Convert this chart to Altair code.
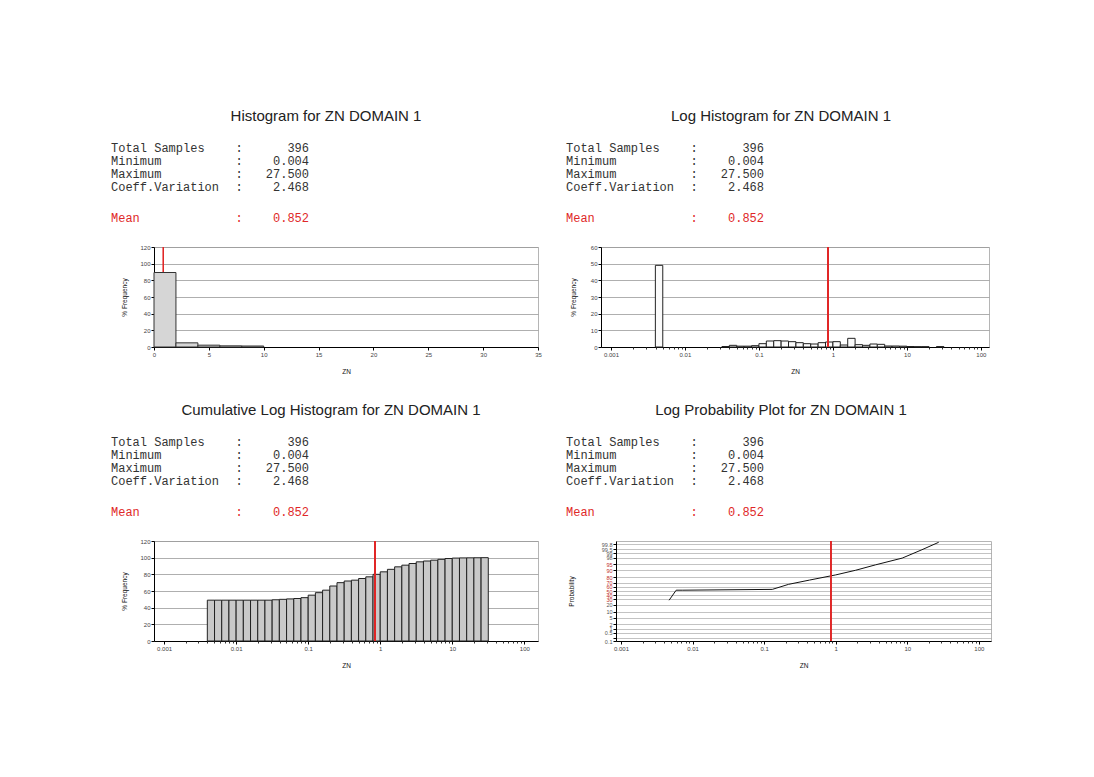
import statistics
import pandas as pd
import altair as alt

# ---------------- data ----------------
stat_labels = ["Total Samples", "Minimum", "Maximum", "Coeff.Variation"]
stat_values = ["396", "0.004", "27.500", "2.468"]
mean_label = "Mean"
mean_text = "0.852"
mean_value = 0.852

titles = [
    "Histogram for ZN DOMAIN 1",
    "Log Histogram for ZN DOMAIN 1",
    "Cumulative Log Histogram for ZN DOMAIN 1",
    "Log Probability Plot for ZN DOMAIN 1",
]

# linear histogram (bin edges in ZN, % frequency)
hist_lo = [0, 2, 4, 6, 8]
hist_hi = [2, 4, 6, 8, 10]
hist_pct = [89.4, 5.0, 2.2, 1.4, 1.2]

# log histogram (bin start as log10 exponent, width 0.1)
loghist_exp = [-2.4, -1.5, -1.4, -1.3, -1.2, -1.1, -1.0, -0.9, -0.8, -0.7, -0.6,
               -0.5, -0.4, -0.3, -0.2, -0.1, 0.0, 0.1, 0.2, 0.3, 0.4, 0.5, 0.6,
               0.7, 0.8, 0.9, 1.0, 1.1, 1.2, 1.4]
loghist_pct = [49.0, 0.3, 1.0, 0.5, 0.5, 0.8, 2.0, 3.6, 3.8, 3.6, 3.2,
               2.6, 2.0, 1.8, 2.6, 3.0, 3.2, 1.2, 5.2, 1.4, 1.0, 1.8, 1.6,
               0.6, 0.6, 0.5, 0.3, 0.2, 0.2, 0.25]

# cumulative log histogram (bin start exponent, cumulative %)
cum_exp = [-2.4, -2.3, -2.2, -2.1, -2.0, -1.9, -1.8, -1.7, -1.6, -1.5,
           -1.4, -1.3, -1.2, -1.1, -1.0, -0.9, -0.8, -0.7, -0.6, -0.5,
           -0.4, -0.3, -0.2, -0.1, 0.0, 0.1, 0.2, 0.3, 0.4, 0.5,
           0.6, 0.7, 0.8, 0.9, 1.0, 1.1, 1.2, 1.3, 1.4]
cum_pct = [49, 49, 49, 49, 49, 49, 49, 49, 49, 49.5,
           50, 50.5, 51, 52, 55, 58, 61, 66, 70, 72,
           73, 75, 77, 80, 83, 86, 89, 91, 93, 95,
           96, 97, 98, 99, 99.5, 99.7, 99.8, 99.9, 100]

# log probability plot (ZN value, cumulative probability %)
prob_zn = [0.0047, 0.0059, 0.0073, 0.13, 0.22, 0.43, 1.0, 1.9, 3.6, 8.5, 16.0, 27.5]
prob_pct = [28.4, 52.0, 52.0, 54.0, 66.0, 75.0, 84.0, 90.0, 94.7, 97.9, 99.46, 99.87]
prob_ticks = [0.1, 0.2, 0.5, 1, 2, 5, 10, 20, 30, 40, 50, 60, 70, 80, 90, 95, 98,
              99, 99.5, 99.8, 99.9]
prob_labels = ["0.1", "", "0.5", "1", "2", "5", "10", "20", "30", "40", "50", "60",
               "70", "80", "90", "95", "98", "99", "99.5", "99.8", "99.9"]

log_major = [0.001, 0.01, 0.1, 1, 10, 100]
log_minor = [m * 10.0 ** k for k in range(-3, 2) for m in range(2, 10)]

# ---------------- styling helpers ----------------
FONT = "Liberation Sans"
MONO = "Liberation Mono"
GRID = "#9a9a9a"
RED = "#e02828"

nd = statistics.NormalDist()


def axis_common(**kw):
    base = dict(domainColor="#000", domainWidth=1, tickColor="#000", tickSize=3,
                labelFontSize=6, labelColor="#444", labelPadding=1, labelFont=FONT,
                titleFont=FONT, titleFontSize=6.5, titleFontWeight="normal",
                titleColor="#111")
    base.update(kw)
    return alt.Axis(**base)


def txt(text, x, y, align="left", color="#333", font=MONO, size=12):
    return alt.Chart(pd.DataFrame({"t": [text]})).mark_text(
        align=align, baseline="middle", font=font, fontSize=size, color=color
    ).encode(x=alt.value(x), y=alt.value(y), text="t:N")


def annotations(title, title_cx, tx):
    out = [txt(title, title_cx, -131, align="center", font=FONT, size=15, color="#222")]
    for i, (lab, val) in enumerate(zip(stat_labels, stat_values)):
        y = -99 + 13 * i
        out += [txt(lab, tx, y), txt(":", tx + 128, y, align="center"),
                txt(val, tx + 198, y, align="right")]
    out += [txt(mean_label, tx, -29, color=RED), txt(":", tx + 128, -29, align="center", color=RED),
            txt(mean_text, tx + 198, -29, align="right", color=RED)]
    return out


def x_log_axis():
    return axis_common(values=log_major, format="~g", title="ZN", titlePadding=11,
                       grid=False, labelFlush=False, labelOverlap=False, orient="bottom")


def minor_layer(df, field, dom):
    return alt.Chart(df).mark_point(opacity=0).encode(
        x=alt.X(f"{field}:Q", scale=alt.Scale(type="log", domain=dom, nice=False),
                axis=alt.Axis(values=log_minor, labels=False, domain=False, grid=False,
                              orient="bottom", tickSize=2, tickColor="#333", title=None,
                              ticks=True)))


# ---------------- panel 1: histogram ----------------
h_df = pd.DataFrame({"lo": hist_lo, "hi": hist_hi, "pct": hist_pct})
x1 = alt.Scale(domain=[0, 35], nice=False)
y1 = alt.Scale(domain=[0, 120], nice=False)
p1_rule = alt.Chart(h_df).mark_rule(color=RED, strokeWidth=1).encode(
    x=alt.X(datum=mean_value, type="quantitative", scale=x1))
p1_bars = alt.Chart(h_df).mark_rect(fill="#d6d6d6", stroke="#333", strokeWidth=1).encode(
    x=alt.X("lo:Q", scale=x1,
            axis=axis_common(values=list(range(0, 36, 5)), title="ZN", titlePadding=11,
                             grid=False, labelFlush=False)),
    x2="hi:Q",
    y=alt.Y("pct:Q", scale=y1,
            axis=axis_common(values=list(range(0, 121, 20)), title="% Frequency",
                             grid=True, gridColor=GRID, gridWidth=0.8, titlePadding=12)),
    y2=alt.datum(0),
)
p1 = alt.layer(p1_rule, p1_bars, *annotations(titles[0], 172, -43)).properties(width=384, height=100)

# ---------------- panel 2: log histogram ----------------
lh_df = pd.DataFrame({"lo": [10 ** e for e in loghist_exp],
                      "hi": [10 ** (e + 0.1) for e in loghist_exp],
                      "pct": loghist_pct})
dom2 = [10 ** -3.135, 10 ** 2.11]
x2s = alt.Scale(type="log", domain=dom2, nice=False)
p2_bars = alt.Chart(lh_df).mark_rect(fill="#fbfbfb", stroke="#222", strokeWidth=1).encode(
    x=alt.X("lo:Q", scale=x2s, axis=x_log_axis()),
    x2="hi:Q",
    y=alt.Y("pct:Q", scale=alt.Scale(domain=[0, 60], nice=False),
            axis=axis_common(values=list(range(0, 61, 10)), title="% Frequency",
                             grid=True, gridColor=GRID, gridWidth=0.8, titlePadding=14)),
    y2=alt.datum(0),
)
p2_rule = alt.Chart(lh_df).mark_rule(color=RED, strokeWidth=1).encode(
    x=alt.X(datum=mean_value, type="quantitative", scale=x2s, axis=None))
p2 = alt.layer(p2_bars, minor_layer(lh_df, "lo", dom2), p2_rule,
               *annotations(titles[1], 180, -35)).properties(width=388, height=100).resolve_axis(x="independent")

# ---------------- panel 3: cumulative log histogram ----------------
ch_df = pd.DataFrame({"lo": [10 ** e for e in cum_exp],
                      "hi": [10 ** (e + 0.1) for e in cum_exp],
                      "pct": cum_pct})
dom3 = [10 ** -3.14, 10 ** 2.19]
x3s = alt.Scale(type="log", domain=dom3, nice=False)
p3_bars = alt.Chart(ch_df).mark_rect(fill="#c9c9c9", stroke="#222", strokeWidth=1).encode(
    x=alt.X("lo:Q", scale=x3s, axis=x_log_axis()),
    x2="hi:Q",
    y=alt.Y("pct:Q", scale=alt.Scale(domain=[0, 120], nice=False),
            axis=axis_common(values=list(range(0, 121, 20)), title="% Frequency",
                             grid=True, gridColor=GRID, gridWidth=0.8, titlePadding=12)),
    y2=alt.datum(0),
)
p3_rule = alt.Chart(ch_df).mark_rule(color=RED, strokeWidth=1).encode(
    x=alt.X(datum=mean_value, type="quantitative", scale=x3s, axis=None))
p3 = alt.layer(p3_bars, minor_layer(ch_df, "lo", dom3), p3_rule,
               *annotations(titles[2], 177, -43)).properties(width=384, height=100).resolve_axis(x="independent")

# ---------------- panel 4: log probability plot ----------------
pr_df = pd.DataFrame({"zn": prob_zn, "pct": prob_pct})
pr_df["z"] = [nd.inv_cdf(p / 100.0) for p in prob_pct]
tick_z = [nd.inv_cdf(p / 100.0) for p in prob_ticks]
label_expr = "".join(
    f"abs(datum.value - ({z:.5f})) < 0.001 ? '{lab}' : " for z, lab in zip(tick_z, prob_labels)
) + "''"
dom4 = [10 ** -3.07, 10 ** 2.17]
x4s = alt.Scale(type="log", domain=dom4, nice=False)
p4_line = alt.Chart(pr_df).mark_line(color="#111", strokeWidth=1).encode(
    x=alt.X("zn:Q", scale=x4s, axis=x_log_axis()),
    y=alt.Y("z:Q", scale=alt.Scale(domain=[nd.inv_cdf(0.001), nd.inv_cdf(0.999)], nice=False),
            axis=axis_common(values=tick_z, labelExpr=label_expr, title="Probability",
                             grid=True, gridColor=GRID, gridWidth=0.6, titlePadding=27,
                             labelFontSize=5.5, labelOverlap=False,
                             labelColor={"condition": {"test": "datum.value > -0.6 && datum.value < 1.7",
                                                       "value": "#c03030"},
                                         "value": "#555"})),
)
p4_rule = alt.Chart(pr_df).mark_rule(color=RED, strokeWidth=1).encode(
    x=alt.X(datum=mean_value, type="quantitative", scale=x4s, axis=None))
p4 = alt.layer(p4_line, minor_layer(pr_df, "zn", dom4), p4_rule,
               *annotations(titles[3], 165, -50)).properties(width=375, height=100).resolve_axis(x="independent")

row1 = alt.hconcat(p1, p2, spacing=63, bounds="flush")
row2 = alt.hconcat(p3, p4, spacing=78, bounds="flush")
chart = alt.vconcat(row1, row2, spacing=294, bounds="flush").properties(
    padding={"left": 102, "top": 100, "right": 5, "bottom": 5},
    background="white",
).configure_view(stroke="#b5b5b5", strokeWidth=1)

chart.save("out.html", embed_options={"renderer": "svg", "actions": False})
